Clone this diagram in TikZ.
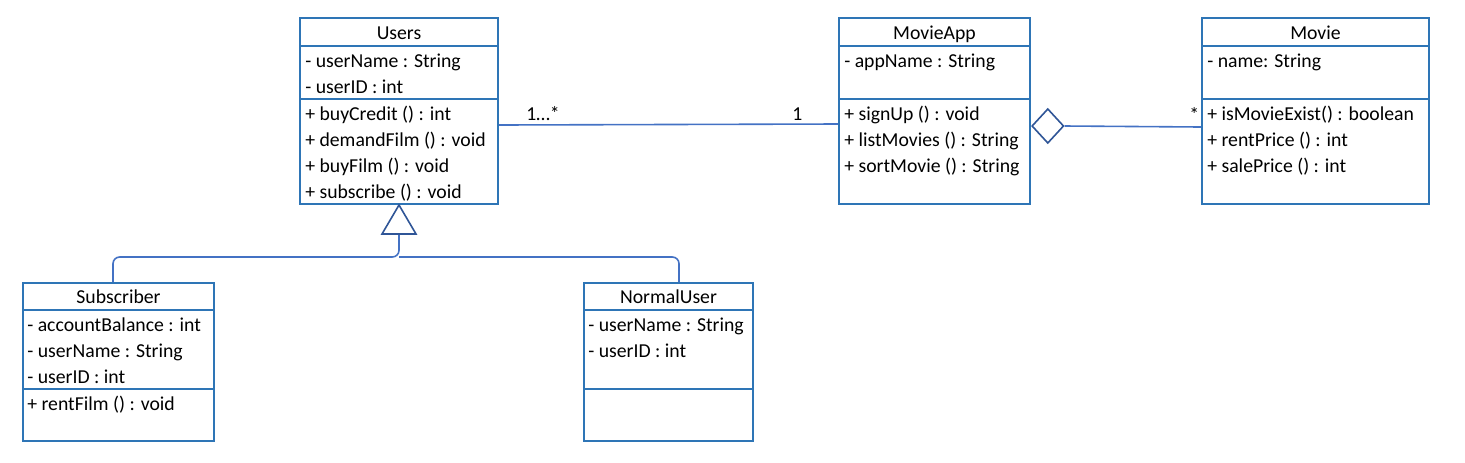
\documentclass[tikz,border=0pt]{standalone}
\usepackage{fontspec}
\setmainfont{Carlito}
\usetikzlibrary{calc}
\usetikzlibrary{fit}
\usetikzlibrary{shapes.geometric}
\definecolor{boxblue}{RGB}{46,117,182}
\definecolor{lineblue}{RGB}{68,114,196}
\definecolor{headblue}{RGB}{47,85,151}

\begin{document}
\begin{tikzpicture}[x=0.75pt,y=-0.75pt,
  classbox/.style={draw=boxblue,line width=1.5pt,inner sep=0pt},
  divider/.style={boxblue,line width=1.5pt},
  member/.style={anchor=base west,inner sep=0pt,font=\fontsize{14.8}{17}\selectfont},
  title/.style={anchor=base,inner sep=0pt,font=\fontsize{14.8}{17}\selectfont},
  conn/.style={lineblue,line width=1.2pt},
  head/.style={draw=headblue,line width=1.2pt,fill=white}]

\useasboundingbox (0,0) rectangle (1465,462);

%% class boxes
\node[classbox,fit={(300,18) (498,204)}] (users) {};
\node[classbox,fit={(839,18) (1030,204)}] (movieapp) {};
\node[classbox,fit={(1202,18) (1429,204)}] (movie) {};
\node[classbox,fit={(23,283) (214,441)}] (subscriber) {};
\node[classbox,fit={(584,283) (753,441)}] (normaluser) {};

\foreach \b in {users,movieapp,movie}{
  \draw[divider] (\b.west |- 0,46) -- (\b.east |- 0,46);
  \draw[divider] (\b.west |- 0,99) -- (\b.east |- 0,99);
}
\foreach \b in {subscriber,normaluser}{
  \draw[divider] (\b.west |- 0,310) -- (\b.east |- 0,310);
  \draw[divider] (\b.west |- 0,389) -- (\b.east |- 0,389);
}

%% Users
\node[title] (usersT) at (users.center |- 0,39) {Users};
\node[member] (usersA1) at (305,67) {- userName : String};
\node[member] (usersA2) at (305,93) {- userID : int};
\node[member] (usersM1) at (305,120) {+ buyCredit () : int};
\node[member] (usersM2) at (305,146) {+ demandFilm () : void};
\node[member] (usersM3) at (305,172) {+ buyFilm () : void};
\node[member] (usersM4) at (305,198) {+ subscribe () : void};

%% MovieApp
\node[title] (movieappT) at (movieapp.center |- 0,39) {MovieApp};
\node[member] (movieappA1) at (844,67) {- appName : String};
\node[member] (movieappM1) at (844,120) {+ signUp () : void};
\node[member] (movieappM2) at (844,146) {+ listMovies () : String};
\node[member] (movieappM3) at (844,172) {+ sortMovie () : String};

%% Movie
\node[title] (movieT) at (movie.center |- 0,39) {Movie};
\node[member] (movieA1) at (1207,67) {- name: String};
\node[member] (movieM1) at (1207,120) {+ isMovieExist() : boolean};
\node[member] (movieM2) at (1207,146) {+ rentPrice () : int};
\node[member] (movieM3) at (1207,172) {+ salePrice () : int};

%% Subscriber
\node[title] (subscriberT) at (subscriber.center |- 0,303) {Subscriber};
\node[member] (subscriberA1) at (27,331) {- accountBalance : int};
\node[member] (subscriberA2) at (27,357) {- userName : String};
\node[member] (subscriberA3) at (27,383) {- userID : int};
\node[member] (subscriberM1) at (27,410) {+ rentFilm () : void};

%% NormalUser
\node[title] (normaluserT) at (normaluser.center |- 0,303) {NormalUser};
\node[member] (normaluserA1) at (588,331) {- userName : String};
\node[member] (normaluserA2) at (588,357) {- userID : int};

%% association Users -- MovieApp
\draw[conn] (users.east |- 0,125) -- (movieapp.west |- 0,124);
\node[member] (multA) at (526,120) {1…*};
\node[member] (multB) at (792,120) {1};

%% aggregation MovieApp -- Movie
\node[head,diamond,inner sep=0pt,minimum width=24pt,minimum height=26pt,anchor=west] (agg) at (movieapp.east |- 0,126) {};
\draw[conn] (agg.east) -- (movie.west |- 0,127);
\node[member] (multC) at (1189,121) {*};

%% generalization
\coordinate (genapex) at (users.south);
\coordinate (genbase) at ($(genapex)+(0,29)$);
\coordinate (genjoin) at ($(genapex)+(0,52)$);
\draw[conn,rounded corners=5] (113,0 |- subscriber.north) |- (genjoin) -- (genbase);
\draw[conn,rounded corners=5] (679,0 |- normaluser.north) |- (genjoin);
\draw[head] (genapex) -- ($(genbase)+(-17,0)$) -- ($(genbase)+(17,0)$) -- cycle;

\end{tikzpicture}
\end{document}
